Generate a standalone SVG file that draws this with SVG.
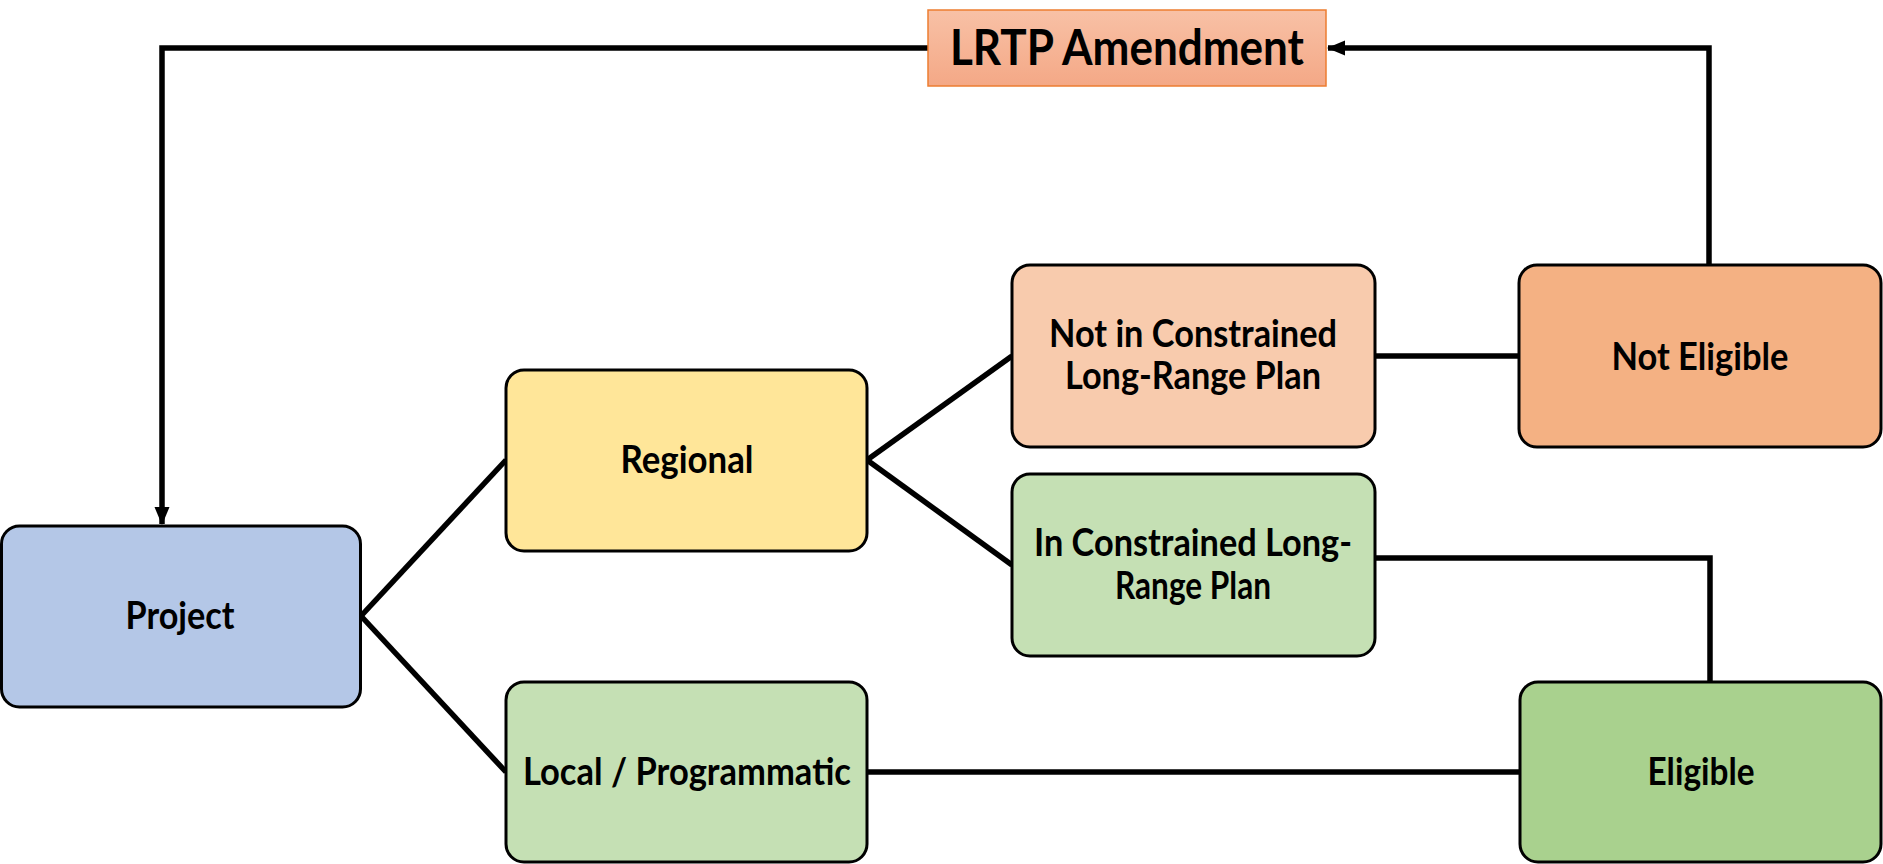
<svg xmlns="http://www.w3.org/2000/svg" width="1883" height="864" viewBox="0 0 1883 864">
  <style>
    .box { stroke: #000; stroke-width: 3; }
    .lbl { font-family: Lato, "Open Sans", "Liberation Sans", sans-serif; font-weight: bold; font-size: 38px; fill: #000; text-anchor: middle; }
    .title { font-size: 50px; }
    .conn { fill: none; stroke: #000; stroke-width: 5.5; }
  </style>
  <defs>
    <linearGradient id="lrtpGrad" x1="0" y1="0" x2="0" y2="1">
      <stop offset="0" stop-color="#F8C1A6"/>
      <stop offset="1" stop-color="#F4A886"/>
    </linearGradient>
    <marker id="arrow" markerUnits="userSpaceOnUse" markerWidth="18" markerHeight="18" viewBox="0 0 18 18" refX="17" refY="9" orient="auto">
      <path d="M0,1.5 L18,9 L0,16.5 Z" fill="#000"/>
    </marker>
  </defs>

  <g id="connectors">
    <path class="conn" d="M361,616 L506,460"/>
    <path class="conn" d="M361,616 L506,772"/>
    <path class="conn" d="M867,460 L1012,356"/>
    <path class="conn" d="M867,460 L1012,565"/>
    <path class="conn" d="M1375,356 L1519,356"/>
    <path class="conn" d="M1375,558 L1710,558 L1710,682"/>
    <path class="conn" d="M867,772 L1520,772"/>
    <path class="conn" d="M1709,265 L1709,48 L1328,48" marker-end="url(#arrow)"/>
    <path class="conn" d="M928,48 L162,48 L162,524" marker-end="url(#arrow)"/>
  </g>

  <g id="lrtp-amendment">
    <rect x="928" y="10" width="398" height="76" fill="url(#lrtpGrad)" stroke="#ED7D31" stroke-width="1.5"/>
    <text class="lbl title" x="1127" y="65" textLength="354" lengthAdjust="spacingAndGlyphs">LRTP Amendment</text>
  </g>

  <g id="project">
    <rect class="box" x="1.5" y="526" width="359" height="181" rx="18" fill="#B4C7E7"/>
    <text class="lbl" x="180" y="629" textLength="109" lengthAdjust="spacingAndGlyphs">Project</text>
  </g>

  <g id="regional">
    <rect class="box" x="506" y="370" width="361" height="181" rx="18" fill="#FFE699"/>
    <text class="lbl" x="687" y="473" textLength="133" lengthAdjust="spacingAndGlyphs">Regional</text>
  </g>

  <g id="local-programmatic">
    <rect class="box" x="506" y="682" width="361" height="180" rx="18" fill="#C5E0B4"/>
    <text class="lbl" x="687" y="785" textLength="328" lengthAdjust="spacingAndGlyphs">Local / Programmatic</text>
  </g>

  <g id="not-in-constrained">
    <rect class="box" x="1012" y="265" width="363" height="182" rx="18" fill="#F8CBAD"/>
    <text class="lbl" x="1193" y="347" textLength="288" lengthAdjust="spacingAndGlyphs">Not in Constrained</text>
    <text class="lbl" x="1193" y="389" textLength="256" lengthAdjust="spacingAndGlyphs">Long-Range Plan</text>
  </g>

  <g id="in-constrained">
    <rect class="box" x="1012" y="474" width="363" height="182" rx="18" fill="#C5E0B4"/>
    <text class="lbl" x="1193" y="556" textLength="318" lengthAdjust="spacingAndGlyphs">In Constrained Long-</text>
    <text class="lbl" x="1193" y="599" textLength="156" lengthAdjust="spacingAndGlyphs">Range Plan</text>
  </g>

  <g id="not-eligible">
    <rect class="box" x="1519" y="265" width="362" height="182" rx="18" fill="#F4B183"/>
    <text class="lbl" x="1700" y="370" textLength="177" lengthAdjust="spacingAndGlyphs">Not Eligible</text>
  </g>

  <g id="eligible">
    <rect class="box" x="1520" y="682" width="361" height="180" rx="18" fill="#A9D18E"/>
    <text class="lbl" x="1701" y="785" textLength="107" lengthAdjust="spacingAndGlyphs">Eligible</text>
  </g>
</svg>
